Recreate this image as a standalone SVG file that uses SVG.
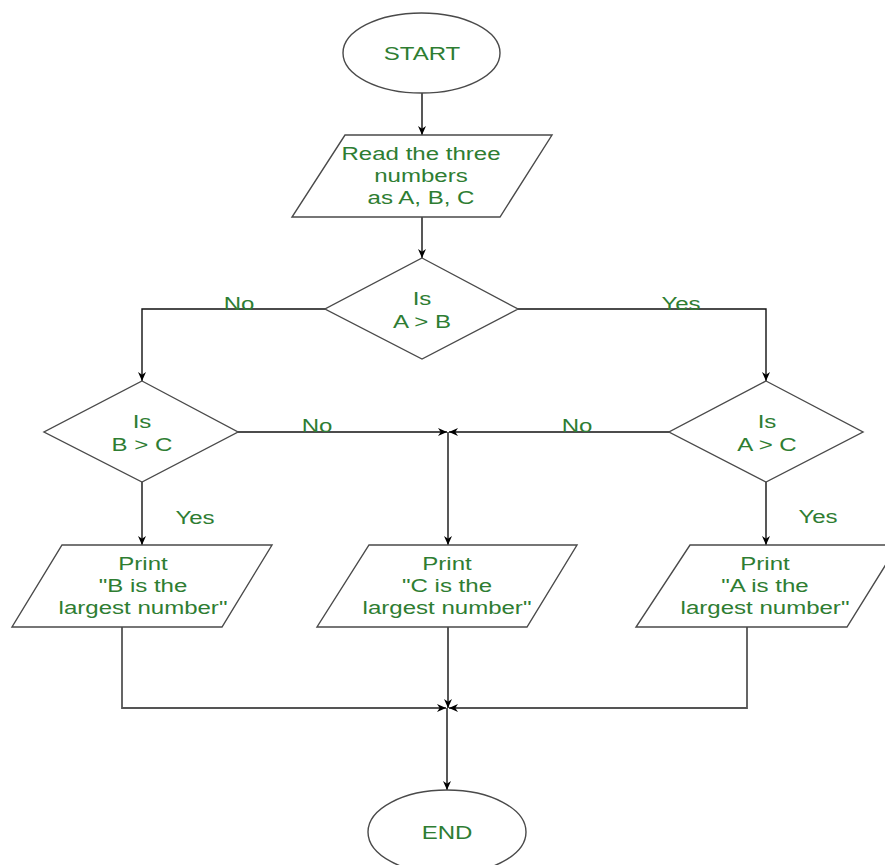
<svg xmlns="http://www.w3.org/2000/svg" width="885" height="865" viewBox="0 0 885 865">
<style>
.shape{fill:#fff;stroke:#4a4a4a;stroke-width:1.4}
.conn{fill:none;stroke:#111;stroke-width:1.4}
.gline{fill:none;stroke:#555;stroke-width:1.8}
text{font-family:"Liberation Sans",Arial,sans-serif;font-size:18.5px;fill:#2e7d32;text-anchor:middle}
</style>
<defs>
<marker id="arr" viewBox="0 0 10 10" refX="10" refY="5" markerWidth="9" markerHeight="8" markerUnits="userSpaceOnUse" orient="auto" preserveAspectRatio="none">
<path d="M0,0 L10,5 L0,10 L3,5 z" fill="#000"/>
</marker>
</defs>
<rect width="885" height="865" fill="#fff"/>
<g id="connectors">
<path class="conn" d="M422,93 V135" marker-end="url(#arr)"/>
<path class="conn" d="M422,217 V258" marker-end="url(#arr)"/>
<path class="conn" d="M325,309 H142 V381" marker-end="url(#arr)"/>
<path class="conn" d="M518,309 H766 V381" marker-end="url(#arr)"/>
<path class="conn" d="M238,432 H447" marker-end="url(#arr)"/>
<path class="conn" d="M669,432 H449" marker-end="url(#arr)"/>
<path class="conn" d="M448,432 V545" marker-end="url(#arr)"/>
<path class="conn" d="M142,482 V545" marker-end="url(#arr)"/>
<path class="conn" d="M766,482 V545" marker-end="url(#arr)"/>
<path class="gline" d="M122,627 V708 H446" marker-end="url(#arr)"/>
<path class="gline" d="M747,627 V708 H449" marker-end="url(#arr)"/>
<path class="conn" d="M448,627 V708" marker-end="url(#arr)"/>
<path class="conn" d="M447,708 V790" marker-end="url(#arr)"/>
<g transform="translate(239,0) scale(1.3,1)"><text x="0" y="310">No</text></g>
<g transform="translate(681,0) scale(1.3,1)"><text x="0" y="310">Yes</text></g>
<g transform="translate(317,0) scale(1.3,1)"><text x="0" y="432">No</text></g>
<g transform="translate(577,0) scale(1.3,1)"><text x="0" y="432">No</text></g>
<g transform="translate(195,0) scale(1.3,1)"><text x="0" y="524">Yes</text></g>
<g transform="translate(818,0) scale(1.3,1)"><text x="0" y="523">Yes</text></g>
</g>
<g id="start">
<ellipse class="shape" cx="421.5" cy="53" rx="78.5" ry="40"/>
<g transform="translate(422,0) scale(1.3,1)"><text x="0" y="60">START</text></g>
</g>
<g id="read">
<polygon class="shape" points="345,135 552,135 500,217 292,217"/>
<g transform="translate(421,0) scale(1.3,1)"><text x="0" y="160">Read the three</text><text x="0" y="182">numbers</text><text x="0" y="204">as A, B, C</text></g>
</g>
<g id="isAB">
<polygon class="shape" points="422,258 518,309 422,359 325,309"/>
<g transform="translate(422,0) scale(1.3,1)"><text x="0" y="305">Is</text><text x="0" y="328">A &gt; B</text></g>
</g>
<g id="isBC">
<polygon class="shape" points="142,381 238,432 142,482 44,432"/>
<g transform="translate(142,0) scale(1.3,1)"><text x="0" y="428">Is</text><text x="0" y="451">B &gt; C</text></g>
</g>
<g id="isAC">
<polygon class="shape" points="766,381 863,432 766,482 669,432"/>
<g transform="translate(767,0) scale(1.3,1)"><text x="0" y="428">Is</text><text x="0" y="451">A &gt; C</text></g>
</g>
<g id="printB">
<polygon class="shape" points="62,545 272,545 222,627 12,627"/>
<g transform="translate(143,0) scale(1.3,1)"><text x="0" y="570">Print</text><text x="0" y="592">"B is the</text><text x="0" y="614">largest number"</text></g>
</g>
<g id="printC">
<polygon class="shape" points="369,545 577,545 527,627 317,627"/>
<g transform="translate(447,0) scale(1.3,1)"><text x="0" y="570">Print</text><text x="0" y="592">"C is the</text><text x="0" y="614">largest number"</text></g>
</g>
<g id="printA">
<polygon class="shape" points="690,545 898,545 847,627 636,627"/>
<g transform="translate(765,0) scale(1.3,1)"><text x="0" y="570">Print</text><text x="0" y="592">"A is the</text><text x="0" y="614">largest number"</text></g>
</g>
<g id="end">
<ellipse class="shape" cx="447" cy="832" rx="79" ry="42"/>
<g transform="translate(447,0) scale(1.3,1)"><text x="0" y="839">END</text></g>
</g>
</svg>
